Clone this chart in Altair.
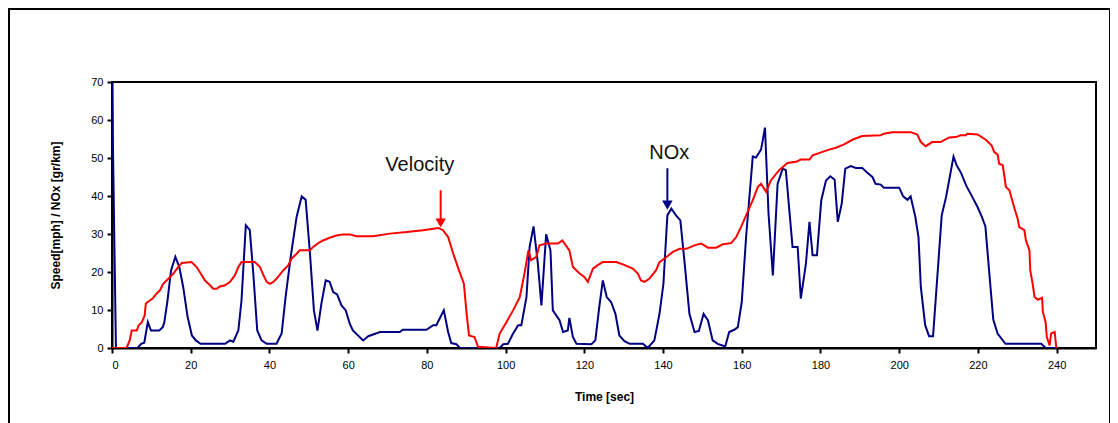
import altair as alt
import pandas as pd

# ---- data ----
vel_t = [0, 3.7, 4.5, 5, 6.3, 6.8, 7.6, 8.3, 8.6, 9.6, 10.3, 11.3, 12.2, 13, 14.3, 15.6, 16.8, 17.7,
         20.2, 21.5, 22.3, 23.6, 24.9, 25.7, 26.6, 27.4, 28.7, 30, 31.2, 32.1, 32.9, 36.3, 37.6, 38.5,
         39.3, 40.1, 41, 42.2, 43.5, 44.8, 45.6, 46.9, 47.7, 50.3, 51.1, 52.4, 53.6, 55.3, 57, 58.7,
         60.4, 62.1, 66.3, 70.6, 74.8, 79, 82.9, 84.1, 85.4, 86.7, 88, 89.4, 90.1, 90.7, 92.1, 93,
         97.6, 98.5, 100.2, 101.9, 103.6, 104.8, 105.8, 106.5, 107.8, 108.6, 110.3, 113.3, 114.4,
         116.2, 117.1, 118.8, 120, 120.9, 122.2, 123.4, 124.7, 128.1, 129.8, 132.3, 133.6, 134.4,
         135.3, 136.5, 138.2, 139.1, 140.8, 142.5, 144.2, 145.9, 148, 149.7, 151.4, 153.5, 155.2,
         157.3, 158.6, 159.8, 161.1, 162.8, 164.1, 164.9, 166.2, 167.4, 169.5, 171.6, 173.8, 175,
         177.2, 178, 180.5, 182.2, 183.9, 186, 188.1, 190.6, 195.3, 196.1, 198.2, 202.9, 204.6,
         205.5, 206.7, 208.4, 210.5, 212.7, 214.4, 215.6, 216.9, 217.3, 219.9, 222, 223.5, 224.1,
         225, 225.4, 226.3, 226.7, 227.1, 228, 228.7, 229.3, 230.1, 230.5, 231.8, 232.2, 233.1,
         233.3, 233.9, 234.4, 235.2, 236.3, 236.5, 237.2, 237.5, 238.2, 238.6, 239.5, 239.9, 240.3]
vel_v = [0, 0, 2, 4.6, 4.6, 6, 6.8, 8.6, 11.7, 12.5, 13, 14.3, 15.2, 16.9, 18.2, 19.6, 21.3, 22.4,
         22.6, 21.3, 20, 17.8, 16.5, 15.6, 15.6, 16.2, 16.5, 17.4, 19.1, 21.3, 22.6, 22.6, 21.3, 19.1,
         17.4, 16.9, 17.4, 18.7, 20.4, 21.8, 23.5, 24.8, 25.7, 25.7, 26.6, 27.6, 28.3, 29, 29.6, 29.9,
         29.9, 29.4, 29.4, 30.1, 30.5, 31, 31.6, 31, 29.2, 24.8, 20.9, 16.9, 9, 3.3, 2.9, 0.3,
         0, 3.8, 6.8, 9.9, 13.4, 19.6, 25.7, 23.1, 24, 27, 27.5, 27.5, 28.3,
         25.7, 21.3, 19.6, 18.7, 17.4, 20.9, 21.8, 22.6, 22.6, 22, 20.9, 19.6, 17.8,
         17.4, 18.2, 20.4, 22.6, 23.9, 25.3, 26.1, 26.1, 27, 27.5, 26.4, 26.4, 27.3,
         27.6, 29.2, 31.8, 34.9, 38.9, 42.4, 43.2, 41.1, 44.1, 46.8, 48.7, 49, 49.6,
         49.6, 50.7, 51.6, 52.2, 52.7, 53.6, 54.8, 55.8, 56, 56.4, 56.8, 56.8, 56.2,
         54.2, 53.1, 54.2, 54.2, 55.4, 55.5, 56, 56, 56.4, 56.2, 54.8, 53.3, 51.6,
         50.9, 48.5, 48.1, 45.4, 42.4, 41.5, 38.9, 36.7, 34, 31.8, 31, 28.3, 25.7,
         20.4, 16.9, 13.4, 12.7, 13.2, 9.5, 6.8, 2.9, 0.7, 3.8, 4.2, 0.3, 0]

nox_t = [0, 1, 6.5, 7.4, 8.2, 9.1, 9.9, 12, 12.9, 13.3, 14.1, 15, 16.1, 17.1, 18.1, 19.2, 20.3, 21.3,
         22.5, 28.7, 30, 30.8, 32.1, 32.9, 34, 35, 35.9, 36.9, 38, 39.3, 41.8, 43.1, 44.1, 45.4, 46.9,
         48.2, 49.2, 50.3, 51.3, 52.2, 53.2, 54.3, 55.3, 56.2, 57.2, 58.3, 59.4, 60.4, 61.2, 63.8,
         65.1, 68.1, 73.1, 73.9, 79.9, 81.6, 82.4, 84.3, 85.4, 86.2, 87.5, 88.4, 98.5, 99.4, 100.6,
         101.9, 103.2, 104, 105.3, 106.1, 107.1, 108.2, 109.1, 110.3, 111.4, 112, 113.7, 114.6,
         115.8, 116.2, 117.1, 118, 121.8, 122.8, 123.8, 124.7, 125.7, 126.8, 127.9, 128.9, 130.2,
         131.5, 134.9, 136.1, 137.8, 139.1, 140.1, 141.1, 142.1, 143.3, 144.4, 145.5, 146.7, 148,
         149.1, 150.3, 151.4, 152.6, 153.9, 155.8, 156.8, 158.1, 159, 160, 161.1, 162.8, 163.6,
         164.9, 165.9, 166.8, 167.9, 169.1, 170.4, 171.2, 172.9, 174.2, 175, 176.3, 177.2, 178,
         179.1, 180.2, 181.4, 182.5, 183.6, 184.4, 185.4, 186.3, 187.7, 189, 190.6, 191.9, 193.2,
         194, 195.3, 196.1, 200, 201, 202.1, 202.9, 204.1, 204.9, 205.5, 206.6, 207.6, 208.6,
         209.8, 210.8, 211.9, 213.8, 214.6, 215.7, 217, 218.6, 219.9, 221, 221.9, 222.9, 223.9,
         225, 227, 236.1, 237.2, 239.9]
nox_v = [70, 0, 0, 1.1, 1.4, 6.8, 4.6, 4.6, 5.5, 6.8, 12.5, 20.4, 24, 21.3, 16, 8.2, 3.3, 2,
         1.1, 1.1, 2, 1.6, 4.6, 12.5, 32.3, 31.1, 19.6, 4.6, 2, 1.1, 1.1, 3.8, 13.4, 24, 34.5,
         39.9, 39, 24.8, 9.9, 4.6, 11.7, 17.8, 17.4, 14.7, 14.1, 11.2, 9.9, 6.4, 4.6, 2,
         3.1, 4.2, 4.2, 4.8, 4.8, 6, 6, 9.9, 4.2, 1.3, 1, 0, 0, 1, 1.1,
         3.8, 6, 6, 13.4, 26.6, 32, 22.2, 11.2, 29.9, 25.7, 9.9, 7.3, 4.2,
         4.6, 7.9, 2.9, 1.1, 1, 2, 10.8, 17.8, 13.4, 12.1, 9, 3.3, 1.8,
         1.1, 1.1, 0, 2, 9, 16.9, 34.9, 36.7, 34.9, 33.6, 22.2, 9, 4.2,
         4.5, 9, 7.3, 2, 1.1, 0.4, 4.2, 4.8, 5.5, 12.1, 29.2, 50.4, 50.1,
         52.2, 58, 35.4, 19.1, 43.2, 47.2, 46.8, 26.6, 26.6, 13, 22.2, 33.2, 24.4,
         24.4, 38.9, 44.1, 45.2, 44.3, 33.2, 38, 47.2, 47.9, 47.4, 47.4, 46.1, 45,
         43.2, 43, 42.2, 42.2, 39.9, 39, 39.9, 34.5, 29.2, 16, 6, 3.1, 3.1,
         20.4, 34.9, 39.7, 50.4, 48.1, 46.1, 42.8, 39.7, 37.1, 34.5, 32, 19.6, 7.5,
         3.8, 1.1, 1.1, 0, 0]

ann_labels = ["Velocity", "NOx"]
ann_t = [78.2, 141.6]
ann_v = [48.1, 51.2]
arrow_t = [83.5, 141.1]
arrow_top = [41.5, 47.3]
arrow_end = [33.5, 38.5]
arrow_head = [32.9, 37.6]

x_ticks = list(range(0, 241, 20))
y_ticks = list(range(0, 71, 10))

# ---- tables ----
df = pd.concat([
    pd.DataFrame({"t": nox_t, "v": nox_v, "series": "NOx", "order": range(len(nox_t))}),
    pd.DataFrame({"t": vel_t, "v": vel_v, "series": "Velocity", "order": range(len(vel_t))}),
])
ann = pd.DataFrame({"label": ann_labels, "t": ann_t, "v": ann_v})
arr = pd.DataFrame({"series": ann_labels, "t": arrow_t, "top": arrow_top,
                    "end": arrow_end, "head": arrow_head})

FONT = "Liberation Sans"
xs = alt.Scale(domain=[0, 250], nice=False, zero=False)
ys = alt.Scale(domain=[0, 70], nice=False)
cs = alt.Scale(domain=["Velocity", "NOx"], range=["#FF0000", "#000080"])

x_axis = alt.Axis(values=x_ticks, title="Time [sec]", grid=False, labelFont=FONT,
                  labelFontSize=11, labelColor="#000", labelPadding=6, tickSize=5,
                  tickColor="#000", tickWidth=2, domainColor="#000", domainWidth=2,
                  titleFont=FONT, titleFontSize=12, titleFontWeight="bold", titleColor="#000",
                  titlePadding=21, labelOverlap=False)
y_axis = alt.Axis(values=y_ticks, title="Speed[mph] / NOx [gr/km]", grid=False, labelFont=FONT,
                  labelFontSize=11, labelColor="#000", labelPadding=4, tickSize=5,
                  tickColor="#000", tickWidth=2, domainColor="#000", domainWidth=2,
                  titleFont=FONT, titleFontSize=12, titleFontWeight="bold", titleColor="#000",
                  titlePadding=28, labelOverlap=False)

X = lambda f: alt.X(f, type="quantitative", scale=xs, axis=x_axis)
Y = lambda f: alt.Y(f, type="quantitative", scale=ys, axis=y_axis)
C = alt.Color("series:N", scale=cs, legend=None)

base = alt.Chart(df)
nox_line = base.transform_filter(alt.datum.series == "NOx").mark_line(strokeWidth=2, clip=True).encode(
    x=X("t"), y=Y("v"), color=C, order="order:Q")
vel_line = base.transform_filter(alt.datum.series == "Velocity").mark_line(
    strokeWidth=2, clip=True).encode(x=X("t"), y=Y("v"), color=C, order="order:Q")

labels = alt.Chart(ann).mark_text(font=FONT, fontSize=20, color="#111", baseline="middle",
                                  align="center").encode(x=X("t"), y=Y("v"), text="label:N")

shafts = alt.Chart(arr).mark_rule(strokeWidth=2).encode(x=X("t"), y=Y("top"), y2="end:Q", color=C)
heads = alt.Chart(arr).mark_point(shape="triangle-down", filled=True, size=110, opacity=1).encode(
    x=X("t"), y=Y("head"), color=C)

frame = alt.Chart(ann).mark_rect(fill=None, stroke="#000", strokeWidth=2).encode(
    x=alt.value(-103), x2=alt.value(998), y=alt.value(-73), y2=alt.value(420))
plotbox = alt.Chart(ann).mark_rect(fill=None, stroke="#000", strokeWidth=2).encode(
    x=alt.value(0), x2=alt.value(984), y=alt.value(0), y2=alt.value(266))

chart = alt.layer(frame, plotbox, nox_line, vel_line, shafts, heads, labels).properties(
    width=984, height=266,
    padding={"left": 104, "top": 74, "right": 14, "bottom": 75},
    autosize=alt.AutoSizeParams(type="none"),
).configure_view(stroke=None).configure(background="white")

chart.save("out.html", embed_options={"renderer": "svg", "actions": False})
